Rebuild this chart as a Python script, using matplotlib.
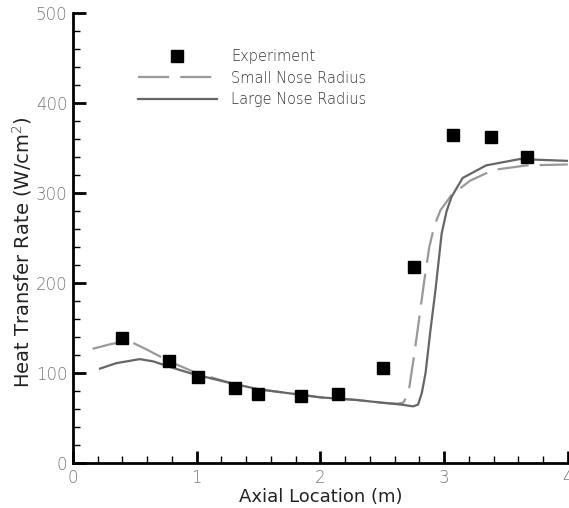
import matplotlib
matplotlib.use("Agg")
import matplotlib.pyplot as plt
from matplotlib.ticker import MultipleLocator

plt.rcParams['font.family'] = ['DejaVu Sans']
plt.rcParams['font.weight'] = 'light'

# Experiment
exp_x = [0.40, 0.78, 1.01, 1.31, 1.50, 1.84, 2.14, 2.51, 2.76, 3.07, 3.38, 3.67]
exp_y = [139, 113, 96, 83, 77, 75, 77, 106, 218, 365, 362, 340]

# Small nose radius (dashed)
small_x = [0.16, 0.30, 0.45, 0.60, 0.78, 1.00, 1.30, 1.50, 2.00, 2.30, 2.50, 2.62, 2.67,
           2.70, 2.72, 2.76, 2.80, 2.84, 2.88, 2.92, 2.97, 3.06, 3.21, 3.40, 3.67, 4.00]
small_y = [127, 132, 136, 126, 113, 100, 88, 82, 73, 70, 67, 66, 67,
           74, 85, 122, 162, 203, 240, 263, 281, 298, 314, 326, 331, 332]

# Large nose radius (solid)
large_x = [0.22, 0.35, 0.54, 0.65, 0.78, 0.97, 1.30, 1.50, 2.00, 2.30, 2.50, 2.65, 2.75,
           2.79, 2.82, 2.85, 2.89, 2.93, 2.98, 3.02, 3.06, 3.15, 3.34, 3.61, 4.00]
large_y = [105, 111, 115.5, 113, 107, 99, 88, 82, 73, 70, 67, 65, 63,
           65, 78, 100, 148, 192, 255, 280, 296, 317, 331, 338, 336]

fig = plt.figure(figsize=(5.69, 5.08), dpi=100)
ax = fig.add_axes([0.128, 0.0886, 0.87, 0.885])

ax.plot(small_x, small_y, color='#999999', lw=1.6, dashes=(14, 5), label='Small Nose Radius')
ax.plot(large_x, large_y, color='#666666', lw=1.6, label='Large Nose Radius')
ax.plot(exp_x, exp_y, ls='none', marker='s', ms=8.5, color='black', label='Experiment')

ax.set_xlim(0, 4)
ax.set_ylim(0, 500)
for s in ['top', 'right']:
    ax.spines[s].set_visible(False)
for s in ['left', 'bottom']:
    ax.spines[s].set_linewidth(2)
    ax.spines[s].set_color('black')

ax.xaxis.set_major_locator(MultipleLocator(1))
ax.xaxis.set_minor_locator(MultipleLocator(0.2))
ax.yaxis.set_major_locator(MultipleLocator(100))
ax.yaxis.set_minor_locator(MultipleLocator(20))
ax.tick_params(which='major', direction='in', length=9, width=2, labelsize=12,
               labelcolor='#777777', pad=4)
ax.tick_params(which='minor', direction='in', length=5, width=1)

ax.set_xlabel('Axial Location (m)', fontsize=13, color='#222222', labelpad=1,
              fontweight='normal')
ax.set_ylabel('Heat Transfer Rate (W/cm$^2$)', fontsize=14, color='#222222',
              fontweight='normal')
ax.yaxis.set_label_coords(-0.078, 0.47)

h, l = ax.get_legend_handles_labels()
order = [2, 0, 1]
leg = ax.legend([h[i] for i in order], [l[i] for i in order], loc='upper left',
                bbox_to_anchor=(0.105, 0.95), frameon=False, fontsize=10.5,
                handlelength=5.4, labelspacing=0.45, handletextpad=1.0)
for t in leg.get_texts():
    t.set_color('#333333')

fig.savefig('out.png', dpi=100)
